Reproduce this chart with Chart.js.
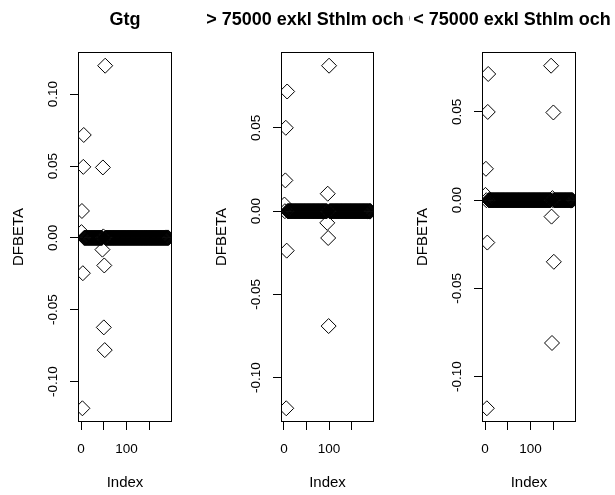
<!DOCTYPE html>
<html>
<head>
<meta charset="utf-8">
<script src="https://cdn.jsdelivr.net/npm/chart.js@4.4.1/dist/chart.umd.min.js"></script>
<style>
  body { margin: 0; background: #fff; }
  #wrap { position: relative; width: 615px; height: 495px; }
  canvas { position: absolute; top: 0; }
</style>
</head>
<body>
<div id="wrap">
  <canvas id="p1" width="205" height="495" style="left:0px"></canvas>
  <canvas id="p2" width="205" height="495" style="left:205px"></canvas>
  <canvas id="p3" width="205" height="495" style="left:410px"></canvas>
</div>
<script>
// DFBETA per observation (index 1..192), one array per model
var gtgDfbeta = [
  0.004, 0.0187, -0.1186, -0.0246, 0.0494, 0.0716, 0, 0, 0, 0, 0, 0, 0, 0, 0, 0,
  0, 0, 0, 0, 0, 0, 0, 0, 0, 0, 0, 0, 0, 0, 0, 0,
  0, 0, 0, 0, 0, 0, 0, 0, 0, 0, 0, 0, 0, 0, -0.0082, 0.0490,
  0.001, -0.0623, -0.0192, -0.0781, 0.1198, 0, 0, 0, 0, 0, 0, 0, 0, 0, 0, 0,
  0, 0, 0, 0, 0, 0, 0, 0, 0, 0, 0, 0, 0, 0, 0, 0,
  0, 0, 0, 0, 0, 0, 0, 0, 0, 0, 0, 0, 0, 0, 0, 0,
  0, 0, 0, 0, 0, 0, 0, 0, 0, 0, 0, 0, 0, 0, 0, 0,
  0, 0, 0, 0, 0, 0, 0, 0, 0, 0, 0, 0, 0, 0, 0, 0,
  0, 0, 0, 0, 0, 0, 0, 0, 0, 0, 0, 0, 0, 0, 0, 0,
  0, 0, 0, 0, 0, 0, 0, 0, 0, 0, 0, 0, 0, 0, 0, 0,
  0, 0, 0, 0, 0, 0, 0, 0, 0, 0, 0, 0, 0, 0, 0, 0,
  0, 0, 0, 0, 0, 0, 0, 0, 0, 0, 0, 0, 0, 0, 0, 0
];

var over75Dfbeta = [
  0.004, 0, 0.0185, 0.0501, -0.1184, -0.0237, 0.0719, 0, 0, 0, 0, 0, 0, 0, 0, 0,
  0, 0, 0, 0, 0, 0, 0, 0, 0, 0, 0, 0, 0, 0, 0, 0,
  0, 0, 0, 0, 0, 0, 0, 0, 0, 0, 0, 0, 0, 0, 0, 0,
  0, 0, 0, 0, 0, 0, 0, 0, 0, 0, 0, 0, 0, 0, 0, 0,
  0, 0, 0, 0, 0, 0, 0, 0, 0, 0, 0, 0, 0, 0, 0, 0,
  0, 0, 0, 0, 0, 0, 0, 0, 0, 0, 0, 0, 0, 0, 0, -0.007,
  0.0105, -0.0161, -0.0690, 0.0874, 0, 0, 0, 0, 0, 0, 0, 0, 0, 0, 0, 0,
  0, 0, 0, 0, 0, 0, 0, 0, 0, 0, 0, 0, 0, 0, 0, 0,
  0, 0, 0, 0, 0, 0, 0, 0, 0, 0, 0, 0, 0, 0, 0, 0,
  0, 0, 0, 0, 0, 0, 0, 0, 0, 0, 0, 0, 0, 0, 0, 0,
  0, 0, 0, 0, 0, 0, 0, 0, 0, 0, 0, 0, 0, 0, 0, 0,
  0, 0, 0, 0, 0, 0, 0, 0, 0, 0, 0, 0, 0, 0, 0, 0
];

var under75Dfbeta = [
  0.003, 0.0178, 0, -0.1179, -0.0240, 0.0500, 0.0715, 0, 0, 0, 0, 0, 0, 0, 0, 0,
  0, 0, 0, 0, 0, 0, 0, 0, 0, 0, 0, 0, 0, 0, 0, 0,
  0, 0, 0, 0, 0, 0, 0, 0, 0, 0, 0, 0, 0, 0, 0, 0,
  0, 0, 0, 0, 0, 0, 0, 0, 0, 0, 0, 0, 0, 0, 0, 0,
  0, 0, 0, 0, 0, 0, 0, 0, 0, 0, 0, 0, 0, 0, 0, 0,
  0, 0, 0, 0, 0, 0, 0, 0, 0, 0, 0, 0, 0, 0, 0, 0,
  0, 0, 0, 0, 0, 0, 0, 0, 0, 0, 0, 0, 0, 0, 0, 0,
  0, 0, 0, 0, 0, 0, 0, 0, 0, 0, 0, 0, 0, 0, 0, 0,
  0, 0, 0, 0, 0, 0, 0, 0, 0, 0, 0, 0, 0, 0, 0, 0,
  0.0762, -0.0093, -0.0809, 0.0012, 0, 0.0497, -0.0349, 0, 0, 0, 0, 0, 0, 0, 0, 0,
  0, 0, 0, 0, 0, 0, 0, 0, 0, 0, 0, 0, 0, 0, 0, 0,
  0, 0, 0, 0, 0, 0, 0, 0, 0, 0, 0, 0, 0, 0, 0, 0
];

var panelTitles = ['Gtg', '> 75000 exkl Sthlm och Gtg', '< 75000 exkl Sthlm och Gtg'];

// axis ticks
var xTicks = [0, 50, 100, 150];
var xTickLabels = ['0', '', '100', ''];
var yTicksGtg = [-0.10, -0.05, 0, 0.05, 0.10];
var yTicksOther = [-0.10, -0.05, 0, 0.05];

var FONT = '"Liberation Sans", Arial, sans-serif';
Chart.defaults.font.family = FONT;
Chart.defaults.color = '#000';

// plot box edges inside each 205px wide panel, and where the main title is centred
var panels = [
  { id: 'p1', values: gtgDfbeta,     title: panelTitles[0], yTicks: yTicksGtg,   left: 78, right: 172, titleX: 125 },
  { id: 'p2', values: over75Dfbeta,  title: panelTitles[1], yTicks: yTicksOther, left: 76, right: 169, titleX: 118 },
  { id: 'p3', values: under75Dfbeta, title: panelTitles[2], yTicks: yTicksOther, left: 72, right: 166, titleX: 120 }
];

// R-style axis limits: data range padded by 4% on each side
function padRange(lo, hi) {
  var d = (hi - lo) * 0.04;
  return [lo - d, hi + d];
}

// frame around the plot region plus the bold main title (clipped by the canvas edge)
var boxAndTitle = {
  id: 'boxAndTitle',
  afterDraw: function (chart, args, opts) {
    var a = chart.chartArea, ctx = chart.ctx;
    ctx.save();
    ctx.strokeStyle = '#000';
    ctx.lineWidth = 1;
    ctx.strokeRect(a.left + 0.5, a.top + 0.5, a.right - a.left - 1, a.bottom - a.top - 1);
    ctx.font = 'bold 18px ' + FONT;
    ctx.fillStyle = '#000';
    ctx.textAlign = 'center';
    ctx.textBaseline = 'alphabetic';
    ctx.fillText(opts.text, opts.x, 25);
    ctx.restore();
  }
};

panels.forEach(function (p) {
  var pts = p.values.map(function (v, i) { return { x: i + 1, y: v }; });
  var xr = padRange(1, p.values.length);
  var yr = padRange(Math.min.apply(null, p.values), Math.max.apply(null, p.values));

  new Chart(document.getElementById(p.id), {
    type: 'scatter',
    data: {
      datasets: [{
        data: pts,
        pointStyle: 'rectRot',
        pointRadius: 7.5,
        pointBorderWidth: 1,
        borderColor: '#000',
        backgroundColor: 'rgba(0,0,0,0)'
      }]
    },
    options: {
      responsive: false,
      animation: false,
      events: [],
      layout: { padding: { left: p.left - 69, right: 205 - p.right, top: 52, bottom: 0 } },
      plugins: {
        legend: { display: false },
        tooltip: { enabled: false },
        boxAndTitle: { text: p.title, x: p.titleX }
      },
      scales: {
        x: {
          type: 'linear',
          min: xr[0],
          max: xr[1],
          afterBuildTicks: function (s) { s.ticks = xTicks.map(function (v) { return { value: v }; }); },
          afterFit: function (s) { s.height = 73; },
          border: { display: false },
          grid: { drawOnChartArea: false, drawTicks: true, tickLength: 8, color: '#000', lineWidth: 1 },
          ticks: {
            autoSkip: false, maxRotation: 0, padding: 11,
            font: { size: 13.5 },
            callback: function (v, i) { return xTickLabels[i]; }
          },
          title: { display: true, text: 'Index', font: { size: 15 }, padding: { top: 0, bottom: 3 } }
        },
        y: {
          type: 'linear',
          min: yr[0],
          max: yr[1],
          afterBuildTicks: function (s) { s.ticks = p.yTicks.map(function (v) { return { value: v }; }); },
          afterFit: function (s) { s.width = 69; },
          border: { display: false },
          grid: { drawOnChartArea: false, drawTicks: true, tickLength: 8, color: '#000', lineWidth: 1 },
          ticks: {
            autoSkip: false, minRotation: 90, maxRotation: 90, padding: 1,
            crossAlign: 'center',
            font: { size: 13.5 },
            callback: function (v) { return v.toFixed(2); }
          },
          title: { display: true, text: 'DFBETA', font: { size: 15 }, padding: { top: 1, bottom: 0 } }
        }
      }
    },
    plugins: [boxAndTitle]
  });
});
</script>
</body>
</html>
